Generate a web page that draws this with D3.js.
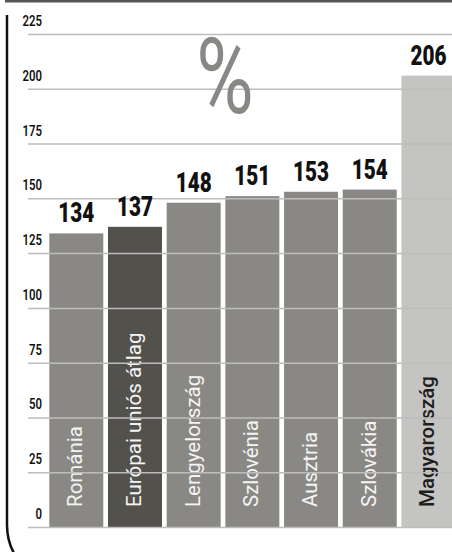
<!DOCTYPE html>
<html>
<head>
<meta charset="utf-8">
<script src="https://cdn.jsdelivr.net/npm/d3@7"></script>
<style>
  html, body { margin: 0; padding: 0; background: #fff; }
  svg { display: block; }
</style>
</head>
<body>
<svg id="chart" width="452" height="552"></svg>
<script>
// ---- data ----
const categories = ["Románia", "Európai uniós átlag", "Lengyelország", "Szlovénia", "Ausztria", "Szlovákia", "Magyarország"];
const values = [134, 137, 148, 151, 153, 154, 206];
const yTicks = [0, 25, 50, 75, 100, 125, 150, 175, 200, 225];
const unitLabel = "%";

// ---- styles ----
const FONT = "Roboto, 'Liberation Sans', sans-serif";
const colorDefault = "#8a8884";
const colorAverage = "#53514c";
const colorHome = "#c4c4c3";
const barFill = c => c === "Európai uniós átlag" ? colorAverage : (c === "Magyarország" ? colorHome : colorDefault);
const textFill = c => c === "Magyarország" ? "#1e1e1e" : "#f4f4f4";

const W = 452, H = 552;
const svg = d3.select("#chart");

const x = d3.scaleBand().domain(categories).range([49.3, 455.4]).paddingInner(0.08).paddingOuter(0);
const y = d3.scaleLinear().domain([0, 225]).range([527, 34]);

// top rule
svg.append("rect").attr("x", 5).attr("y", 0).attr("width", W - 5).attr("height", 2.5).attr("fill", "#555");

// left frame with rounded corner
svg.append("path")
  .attr("d", "M7,15 V525 A59,59 0 0 0 66,584")
  .attr("fill", "none").attr("stroke", "#111").attr("stroke-width", 2.5);

// bars
svg.append("g").selectAll("rect").data(categories).join("rect")
  .attr("x", d => x(d))
  .attr("y", (d, i) => y(values[i]))
  .attr("width", x.bandwidth())
  .attr("height", (d, i) => y(0) - y(values[i]))
  .attr("fill", barFill);

// category labels inside bars
svg.append("g").selectAll("text").data(categories).join("text")
  .attr("transform", d => `translate(${x(d) + x.bandwidth() / 2 + 6},507) rotate(-90)`)
  .attr("text-anchor", "start")
  .attr("font-family", FONT)
  .attr("font-size", 20.5)
  .attr("font-weight", d => d === "Magyarország" ? 500 : 400)
  .attr("fill", textFill)
  .text(d => d);

// gridlines (on top of bars)
const grid = svg.append("g").attr("transform", "translate(28,0)")
  .call(d3.axisLeft(y).tickValues(yTicks).tickSize(-(W - 28)).tickFormat(""));
grid.select(".domain").remove();
grid.selectAll(".tick line").attr("stroke", "#bdbdbd").attr("stroke-width", 1.5);

// tick labels
svg.append("g").selectAll("text").data(yTicks).join("text")
  .attr("transform", d => `translate(42,${y(d) - 8}) scale(0.76,1)`)
  .attr("text-anchor", "end")
  .attr("font-family", FONT)
  .attr("font-size", 15)
  .attr("font-weight", 600)
  .attr("fill", "#111")
  .text(d => d);

// value labels
svg.append("g").selectAll("text").data(categories).join("text")
  .attr("transform", (d, i) => `translate(${x(d) + x.bandwidth() / 2},${y(values[i]) - 11}) scale(0.74,1)`)
  .attr("text-anchor", "middle")
  .attr("font-family", FONT)
  .attr("font-size", 28)
  .attr("font-weight", 900)
  .attr("fill", "#111")
  .text((d, i) => values[i]);

// big percent sign
svg.append("text")
  .attr("transform", "translate(225,113) scale(0.74,1)")
  .attr("text-anchor", "middle")
  .attr("font-family", FONT)
  .attr("font-size", 106)
  .attr("font-weight", 400)
  .attr("fill", "#8a8884")
  .text(unitLabel);
</script>
</body>
</html>
